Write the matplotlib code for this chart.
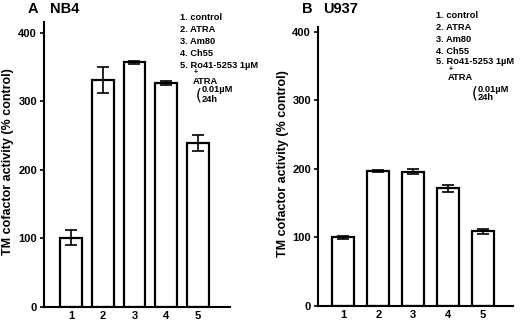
import matplotlib
matplotlib.use("Agg")
import matplotlib.pyplot as plt

plt.rcParams['font.family'] = ['Liberation Sans', 'DejaVu Sans']
plt.rcParams['font.weight'] = 'bold'

categories = ["1", "2", "3", "4", "5"]
nb4_values = [101, 331, 357, 327, 239]
nb4_errors = [11, 19, 2, 3, 12]
u937_values = [100, 197, 196, 172, 109]
u937_errors = [2, 2, 4, 5, 4]
legend_lines = ["1. control", "2. ATRA", "3. Am80", "4. Ch55", "5. Ro41-5253 1\u00b5M"]
ylabel = "TM cofactor activity (% control)"
yticks = [0, 100, 200, 300, 400]

W, H = 520, 323
fig = plt.figure(figsize=(W / 100, H / 100), dpi=100)

def px_axes(x0, x1, ytop, ybot):
    return fig.add_axes([x0 / W, (H - ybot) / H, (x1 - x0) / W, (ybot - ytop) / H])

def draw(ax, vals, errs, xlim, ylim, width, label_x_px, x0, x1):
    x = list(range(1, len(vals) + 1))
    ax.bar(x, vals, width=width, color='white', edgecolor='black', linewidth=1.6, zorder=2)
    ax.errorbar(x, vals, yerr=errs, fmt='none', ecolor='black', elinewidth=1.2,
                capsize=4, capthick=1.2, zorder=3)
    ax.set_xlim(*xlim)
    ax.set_ylim(*ylim)
    ax.set_xticks(x)
    ax.set_xticklabels(categories, fontsize=8, fontweight='bold')
    ax.set_yticks(yticks)
    ax.set_yticklabels([str(t) for t in yticks], fontsize=8, fontweight='bold')
    ax.tick_params(axis='x', length=0, pad=3)
    ax.tick_params(axis='y', length=3, width=1.2, direction='out', pad=2)
    for s in ['top', 'right']:
        ax.spines[s].set_visible(False)
    for s in ['left', 'bottom']:
        ax.spines[s].set_linewidth(1.5)
    ax.set_ylabel(ylabel, fontsize=9, fontweight='bold', va='center')
    ax.yaxis.set_label_coords((label_x_px - x0) / (x1 - x0), 0.51)

axA = px_axes(44, 230, 22, 307)
draw(axA, nb4_values, nb4_errors, (0.15, 6.01), (0, 416), 0.69, 8, 44, 230)
axB = px_axes(318, 513, 27, 306)
draw(axB, u937_values, u937_errors, (0.27, 5.86), (0, 407), 0.63, 283, 318, 513)

def ftext(x, y, s, size, weight='bold', **kw):
    fig.text(x / W, 1 - y / H, s, fontsize=size, fontweight=weight, va='center', ha='left', **kw)

ftext(28, 9, "A", 10.5)
ftext(50, 9, "NB4", 10.5)
ftext(302, 9, "B", 10.5)
ftext(323, 9, "U937", 10.5)

def legend(x0, ys, xind, yplus, yatra, xbr, ybr1, ybr2):
    for line, y in zip(legend_lines, ys):
        ftext(x0, y, line, 6.7)
    ftext(xind + 1, yplus, "+", 5)
    ftext(xind, yatra, "ATRA", 6.7)
    ftext(xbr, (ybr1 + ybr2) / 2, "(", 11, weight='normal', family=['DejaVu Sans'])
    ftext(xbr + 6, ybr1, "0.01\u00b5M", 6.7)
    ftext(xbr + 6, ybr2, "24h", 6.7)

legend(180, [17, 29, 41, 53, 65], 193, 73, 81, 196, 90, 99)
legend(436, [16, 28, 40, 51, 62], 448, 69, 77, 472, 89, 98)

fig.savefig("out.png", dpi=100)
